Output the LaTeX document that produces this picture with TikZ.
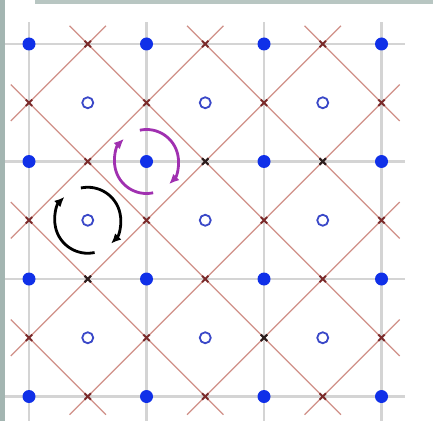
\documentclass[tikz,border=0pt]{standalone}
\usetikzlibrary{arrows.meta}
\definecolor{bordergray}{HTML}{A3B5B1}
\definecolor{bordertop}{HTML}{B8C6C2}
\definecolor{gridgray}{HTML}{D4D4D4}
\definecolor{diagred}{HTML}{D09088}
\definecolor{xred}{HTML}{7A2A2A}
\definecolor{xdark}{HTML}{2A1E1E}
\definecolor{dotblue}{HTML}{1030E8}
\definecolor{ringblue}{HTML}{3A48C8}
\definecolor{arrowmag}{HTML}{A030B0}
\begin{document}
\begin{tikzpicture}[
  gridline/.style={gridgray, line width=2.4pt},
  diag/.style={diagred, line width=1.1pt},
  xmark/.style={line width=2pt},
  dot/.style={fill=dotblue},
  ring/.style={draw=ringblue, line width=1.8pt},
  rot/.style={line width=2.8pt, -{Latex[length=10pt,width=9pt]}},
]
\useasboundingbox (0,0) rectangle (433pt,421pt);
\fill[white] (0,0) rectangle (433pt,421pt);
\fill[bordergray] (0,0) rectangle (5pt,421pt);
\fill[bordertop] (35pt,417pt) rectangle (433pt,421pt);
\begin{scope}[shift={(29pt,377pt)}, x=117.5pt, y=-117.5pt]
  % gray square grid
  \foreach \j in {0,...,3} \draw[gridline] (-0.204,\j) -- (3.2,\j);
  \foreach \i in {0,...,3} \draw[gridline] (\i,-0.187) -- (\i,3.21);
  % red diagonal lines
  \def\e{0.155}
  \foreach \c in {0.5,1.5,...,5.5}{
    \pgfmathsetmacro\aone{max(0,\c-3)}
    \pgfmathsetmacro\atwo{min(3,\c)}
    \pgfmathsetmacro\xa{\aone-\e}
    \pgfmathsetmacro\ya{\c-\aone+\e}
    \pgfmathsetmacro\xb{\atwo+\e}
    \pgfmathsetmacro\yb{\c-\atwo-\e}
    \draw[diag] (\xa,\ya) -- (\xb,\yb);
  }
  \foreach \d in {-2.5,-1.5,...,2.5}{
    \pgfmathsetmacro\aone{max(0,\d)}
    \pgfmathsetmacro\atwo{min(3,3+\d)}
    \pgfmathsetmacro\xa{\aone-\e}
    \pgfmathsetmacro\ya{\aone-(\d)-\e}
    \pgfmathsetmacro\xb{\atwo+\e}
    \pgfmathsetmacro\yb{\atwo-(\d)+\e}
    \draw[diag] (\xa,\ya) -- (\xb,\yb);
  }
  % crossing marks
  \foreach \i in {0.5,1.5,2.5} \foreach \j in {0,...,3}
    \draw[xmark, xred] (\i,\j) +(-3.2pt,-3.2pt) -- +(3.2pt,3.2pt) +(-3.2pt,3.2pt) -- +(3.2pt,-3.2pt);
  \foreach \i in {0,...,3} \foreach \j in {0.5,1.5,2.5}
    \draw[xmark, xred] (\i,\j) +(-3.2pt,-3.2pt) -- +(3.2pt,3.2pt) +(-3.2pt,3.2pt) -- +(3.2pt,-3.2pt);
  \foreach \p in {(1.5,1),(2.5,1),(0.5,2),(2,2.5)}
    \draw[xmark, xdark] \p +(-3.2pt,-3.2pt) -- +(3.2pt,3.2pt) +(-3.2pt,3.2pt) -- +(3.2pt,-3.2pt);
  % blue dots and rings
  \foreach \i in {0,...,3} \foreach \j in {0,...,3}
    \fill[dot] (\i,\j) circle[radius=6.5pt];
  \foreach \i in {0.5,1.5,2.5} \foreach \j in {0.5,1.5,2.5}
    \draw[ring] (\i,\j) circle[radius=5.5pt];
  \coordinate (cb) at (0.5,1.5);
  \coordinate (cm) at (1,1);
\end{scope}
% rotation arrows
\draw[rot, black] ([shift={(102:33pt)}]cb) arc[start angle=102, end angle=-45, radius=33pt];
\draw[rot, black] ([shift={(-78:33pt)}]cb) arc[start angle=-78, end angle=-225, radius=33pt];
\draw[rot, arrowmag] ([shift={(102:32pt)}]cm) arc[start angle=102, end angle=-45, radius=32pt];
\draw[rot, arrowmag] ([shift={(-78:32pt)}]cm) arc[start angle=-78, end angle=-225, radius=32pt];
\end{tikzpicture}
\end{document}
